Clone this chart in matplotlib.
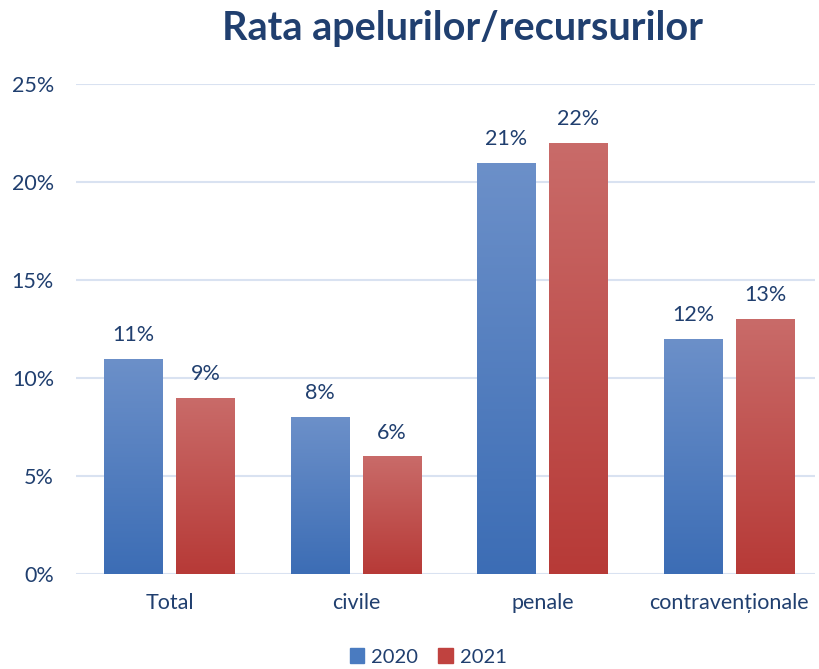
import numpy as np
import matplotlib.pyplot as plt
from matplotlib.colors import LinearSegmentedColormap

# date
categorii = ['Total', 'civile', 'penale', 'contravenționale']
ani = ['2020', '2021']
val_2020 = [11, 8, 21, 12]
val_2021 = [9, 6, 22, 13]

text_col = '#203f6f'
plt.rcParams['font.family'] = ['Lato', 'DejaVu Sans']

fig = plt.figure(figsize=(8.19, 6.69), dpi=100)
ax = fig.add_axes([0.093, 0.142, 0.902, 0.732])

x = np.arange(len(categorii))
w = 0.316
off = 0.193

blue_cm = LinearSegmentedColormap.from_list('b', ['#3c6db5', '#6c90c9'])
red_cm = LinearSegmentedColormap.from_list('r', ['#b73a37', '#c96b69'])
grad = np.linspace(0, 1, 256).reshape(-1, 1)

def bars_gradient(xs, vals, cmap):
    bars = ax.bar(xs, vals, w, color='none', edgecolor='none', zorder=3)
    for b in bars:
        x0, y0 = b.get_x(), b.get_y()
        im = ax.imshow(grad, cmap=cmap, origin='lower', aspect='auto',
                       extent=[x0, x0 + b.get_width(), y0, y0 + b.get_height()],
                       zorder=3)
        im.set_clip_path(b)
    for xi, v in zip(xs, vals):
        ax.annotate(f'{v}%', (xi, v), xytext=(0, 10), textcoords='offset points',
                    ha='center', va='bottom', fontsize=15.5, color=text_col)

bars_gradient(x - off, val_2020, blue_cm)
bars_gradient(x + off, val_2021, red_cm)

ax.set_xlim(-0.5, 3.46)
ax.set_ylim(0, 25)
ax.set_yticks(range(0, 26, 5))
ax.set_yticklabels([f'{t}%' for t in range(0, 26, 5)])
ax.set_xticks(x)
ax.set_xticklabels(categorii)
ax.tick_params(length=0, labelsize=15.5, labelcolor=text_col)
ax.tick_params(axis='y', pad=16)
ax.tick_params(axis='x', pad=14)
ax.grid(axis='y', color='#d9e2f1', linewidth=1.5, zorder=0)
ax.set_axisbelow(True)
for s in ax.spines.values():
    s.set_visible(False)

fig.text(0.565, 0.958, 'Rata apelurilor/recursurilor', ha='center', va='center',
         fontsize=28.5, fontweight='bold', color=text_col)

h = [plt.Rectangle((0, 0), 1, 1, color='#4a7bc0'),
     plt.Rectangle((0, 0), 1, 1, color='#c0423f')]
fig.legend(h, ani, loc='center', bbox_to_anchor=(0.523, 0.018), ncol=2, frameon=False,
           fontsize=14.5, labelcolor=text_col, handlelength=0.7, handleheight=0.7,
           handletextpad=0.35, columnspacing=1.0)

fig.savefig('out.png', dpi=100)
